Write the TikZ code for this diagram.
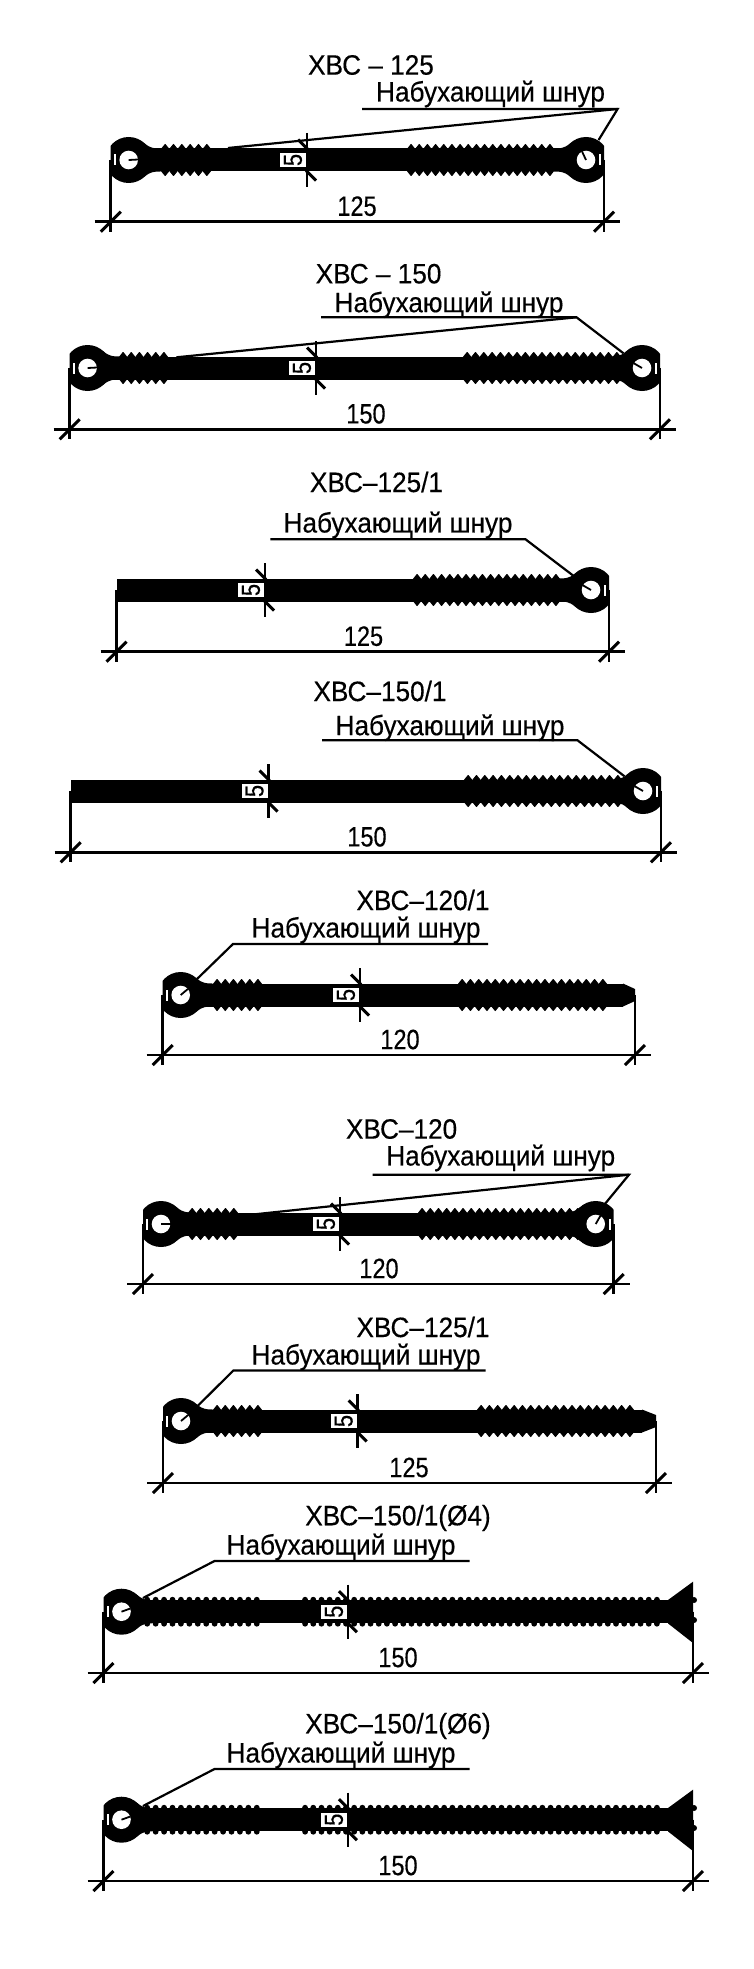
\documentclass[tikz,border=0pt]{standalone}
\usepackage{fontspec}
\newfontfamily\cadfont[FakeStretch=0.935,FakeBold=0.35]{Liberation Sans}
\newfontfamily\dimfont[FakeStretch=0.84,FakeBold=0.35]{Liberation Sans}
\usepackage{tikz}
\tikzstyle{heading} = [font=\cadfont\fontsize{28}{28}\selectfont, inner sep=0pt, yshift=-2pt]
\tikzstyle{note} = [font=\cadfont\fontsize{28}{28}\selectfont, inner sep=0pt, yshift=-2pt]
\tikzstyle{dimtext} = [font=\dimfont\fontsize{28}{28}\selectfont, inner sep=0pt]
\tikzstyle{markbox} = [font=\dimfont\fontsize{26}{26}\selectfont, fill=white, inner sep=0pt,
  minimum width=14pt, minimum height=26pt, rotate=90]
\tikzstyle{dimline} = [draw, line width=2.6pt]
\tikzstyle{tickline} = [draw, line width=3pt]
\tikzstyle{leader} = [draw, line width=2.2pt]
% band of the profile
\newcommand{\profband}[3]{\fill ({#1},{#3-11.5}) rectangle ({#2},{#3+11.5});}
% sharp ribs: from, to, centre, count
\newcommand{\ribset}[4]{
  \pgfmathsetmacro{\ribstep}{(#2-#1)/#4}
  \foreach \k in {1,...,#4} {
    \filldraw[line width=1pt, line join=round] ({#1+(\k-1)*\ribstep+.5},{#3-11}) -- ({#1+(\k-.5)*\ribstep},{#3-15.5})
      -- ({#1+\k*\ribstep-.5},{#3-11}) -- ({#1+\k*\ribstep-.5},{#3+11})
      -- ({#1+(\k-.5)*\ribstep},{#3+15.5}) -- ({#1+(\k-1)*\ribstep+.5},{#3+11}) -- cycle;
  }
}
% round ribs: from, to, centre, count
\newcommand{\bumpset}[4]{
  \pgfmathsetmacro{\ribstep}{(#2-#1)/#4}
  \foreach \k in {1,...,#4} {
    \fill ({#1+(\k-.5)*\ribstep},{#3-12}) circle (2.9);
    \fill ({#1+(\k-.5)*\ribstep},{#3+12}) circle (2.9);
  }
}
% eye with the cord: edge, centre, side (1 or -1), angle of the slit
\newcommand{\eye}[4]{
  \begin{scope}
    \clip (#1,{#2-30}) rectangle ({#1+#3*60},{#2+30});
    \fill ({#1+#3*18},#2) circle (23);
  \end{scope}
  \fill ({#1+#3*30},{#2-19}) -- ({#1+#3*34},{#2-16.5})
    .. controls ({#1+#3*40},{#2-11.5}) and ({#1+#3*44},{#2-11.5}) .. ({#1+#3*50},{#2-11.5})
    -- ({#1+#3*50},{#2+11.5})
    .. controls ({#1+#3*44},{#2+11.5}) and ({#1+#3*40},{#2+11.5}) .. ({#1+#3*34},{#2+16.5})
    -- ({#1+#3*30},{#2+19}) -- cycle;
  \fill[white] ({#1+#3*18},#2) circle (9.3);
  \draw[line width=1.8pt] ({#1+#3*18},#2) -- +(#4:9.5);
  \fill[white] ({#1+#3*3},{#2-5.5}) rectangle ({#1+#3*5.2},{#2+5.5});
}
% overall size: name, x1, x2, centre, y of the line, text, x of the text
\newcommand{\widthdim}[7]{
  \path[dimline] (#2,#4) -- (#2,{#5+10});
  \path[dimline] (#3,#4) -- (#3,{#5+10});
  \path[dimline] ({#2-16},#5) -- ({#3+16},#5);
  \path[tickline] ({#2-10},{#5+10}) -- ({#2+10},{#5-10});
  \path[tickline] ({#3-10},{#5+10}) -- ({#3+10},{#5-10});
  \node[dimtext] (#1) at (#7,{#5-15.5}) {#6};
}
% thickness: name, x, centre
\newcommand{\bandmark}[3]{
  \path[dimline] (#2,{#3-27}) -- (#2,{#3+27});
  \path[tickline] ({#2-9},{#3-20.5}) -- ({#2+1},{#3-10.5});
  \path[tickline] ({#2-1},{#3+10.5}) -- ({#2+9},{#3+20.5});
  \node[markbox] (#1) at ({#2-14},#3) {5};
}
\begin{document}
\begin{tikzpicture}[x=1pt,y=-1pt]
    \useasboundingbox (0,0) rectangle (753,1969);

    % XBC-125
    \profband{129}{585}{160}
    \ribset{161}{211}{160}{6}
    \ribset{407}{554}{160}{18}
    \eye{110.7}{160}{1}{-3}
    \eye{604}{160}{-1}{-115}
    \bandmark{m1}{307}{160}
    \widthdim{d1}{110.7}{604}{160}{221.7}{125}{357}
    \node[heading] (t1) at (371,63) {ХВС – 125};
    \node[note] (n1) at (490.5,92) {Набухающий шнур};
    \coordinate (a1) at (362,109);
    \coordinate (c1) at (617.6,109);
    \path[leader] (a1) -- (c1) -- (598.6,140);
    \path[leader] (c1) -- (228,148);

    % XBC-150
    \profband{88}{642}{368}
    \ribset{119}{168}{368}{6}
    \ribset{463}{621}{368}{19}
    \eye{69.6}{368}{1}{-3}
    \eye{660}{368}{-1}{-150}
    \bandmark{m2}{316}{368}
    \widthdim{d2}{69.6}{660}{368}{429.3}{150}{366}
    \node[heading] (t2) at (378.6,271.7) {ХВС – 150};
    \node[note] (n2) at (449,302.7) {Набухающий шнур};
    \coordinate (a2) at (321,317.3);
    \coordinate (c2) at (576.5,317.3);
    \path[leader] (a2) -- (c2) -- (623.5,353.3);
    \path[leader] (c2) -- (176.5,357.3);

    % XBC-125/1
    \profband{116.5}{593}{590}
    \ribset{413}{560}{590}{18}
    \eye{609}{590}{-1}{-150}
    \bandmark{m3}{265}{590}
    \widthdim{d3}{116.5}{609}{590}{651.7}{125}{363.5}
    \node[heading] (t3) at (376.5,480) {ХВС–125/1};
    \node[note] (n3) at (398,523) {Набухающий шнур};
    \coordinate (a3) at (270.4,539.3);
    \coordinate (c3) at (525.5,539.3);
    \path[leader] (a3) -- (c3) -- (573.7,576);

    % XBC-150/1
    \profband{70.6}{643}{791}
    \ribset{464}{622}{791}{19}
    \eye{661}{791}{-1}{-150}
    \bandmark{m4}{268.6}{791}
    \widthdim{d4}{70.6}{661}{791}{852.3}{150}{367}
    \node[heading] (t4) at (380,689) {ХВС–150/1};
    \node[note] (n4) at (450,725.7) {Набухающий шнур};
    \coordinate (a4) at (322,740.3);
    \coordinate (c4) at (577.5,740.3);
    \path[leader] (a4) -- (c4) -- (624.5,776.3);

    % XBC-120/1
    \profband{180}{623}{995}
    \fill (623,983.5) -- (635,989) -- (635,1001) -- (623,1006.5) -- cycle;
    \ribset{213}{262}{995}{6}
    \ribset{458}{607}{995}{18}
    \eye{162.7}{995}{1}{-40}
    \bandmark{m5}{360}{995}
    \widthdim{d5}{162.7}{635}{995}{1055}{120}{400}
    \node[heading] (t5) at (423,898) {ХВС–120/1};
    \node[note] (n5) at (366,928) {Набухающий шнур};
    \coordinate (a5) at (488,944);
    \coordinate (c5) at (233,944);
    \path[leader] (a5) -- (c5) -- (197,979);

    % XBC-120
    \profband{160}{595}{1224}
    \ribset{188}{238}{1224}{6}
    \ribset{418}{590}{1224}{21}
    \eye{143}{1224}{1}{0}
    \eye{613.7}{1224}{-1}{-60}
    \bandmark{m6}{340}{1224}
    \widthdim{d6}{143}{613.7}{1224}{1284}{120}{379}
    \node[heading] (t6) at (401.6,1127) {ХВС–120};
    \node[note] (n6) at (500.7,1156) {Набухающий шнур};
    \coordinate (a6) at (372.7,1174.7);
    \coordinate (c6) at (629,1174.7);
    \path[leader] (a6) -- (c6) -- (602.4,1207);
    \path[leader] (c6) -- (238.5,1216);

    % XBC-125/1 with tip
    \profband{180}{642}{1421}
    \fill (642,1409.5) -- (656,1415) -- (656,1427) -- (642,1432.5) -- cycle;
    \ribset{213}{262}{1421}{6}
    \ribset{477}{634}{1421}{19}
    \eye{163}{1421}{1}{-40}
    \bandmark{m7}{357.7}{1421}
    \widthdim{d7}{163}{656}{1421}{1483}{125}{409}
    \node[heading] (t7) at (423,1325) {ХВС–125/1};
    \node[note] (n7) at (366,1355) {Набухающий шнур};
    \coordinate (a7) at (485.7,1370.5);
    \coordinate (c7) at (233.4,1370.5);
    \path[leader] (a7) -- (c7) -- (198,1405.6);

    % XBC-150/1 (4)
    \profband{120}{680}{1611.7}
    \bumpset{143}{261}{1611.7}{14}
    \bumpset{301}{661}{1611.7}{44}
    \fill (668,1600) -- (693,1581.7) -- (693,1643) -- (668,1623.4) -- cycle;
    \fill (694,1600) circle (3);
    \fill (694,1620) circle (3);
    \eye{103.5}{1611.7}{1}{-20}
    \bandmark{m8}{348}{1611.7}
    \widthdim{d8}{103.5}{693}{1611.7}{1673}{150}{398}
    \node[heading] (t8) at (398,1516) {ХВС–150/1(Ø4)};
    \node[note] (n8) at (341,1545) {Набухающий шнур};
    \coordinate (a8) at (469.6,1561);
    \coordinate (c8) at (214.5,1561);
    \path[leader] (a8) -- (c8) -- (143,1598);

    % XBC-150/1 (6)
    \profband{120}{680}{1819.7}
    \bumpset{143}{261}{1819.7}{14}
    \bumpset{301}{661}{1819.7}{44}
    \fill (668,1808) -- (693,1789.7) -- (693,1851) -- (668,1831.4) -- cycle;
    \fill (694,1808) circle (3);
    \fill (694,1828) circle (3);
    \eye{103.5}{1819.7}{1}{-20}
    \bandmark{m9}{348}{1819.7}
    \widthdim{d9}{103.5}{693}{1819.7}{1881}{150}{398}
    \node[heading] (t9) at (398,1724) {ХВС–150/1(Ø6)};
    \node[note] (n9) at (341,1753) {Набухающий шнур};
    \coordinate (a9) at (469.6,1769);
    \coordinate (c9) at (214.5,1769);
    \path[leader] (a9) -- (c9) -- (143,1806);
  \end{tikzpicture}
\end{document}
